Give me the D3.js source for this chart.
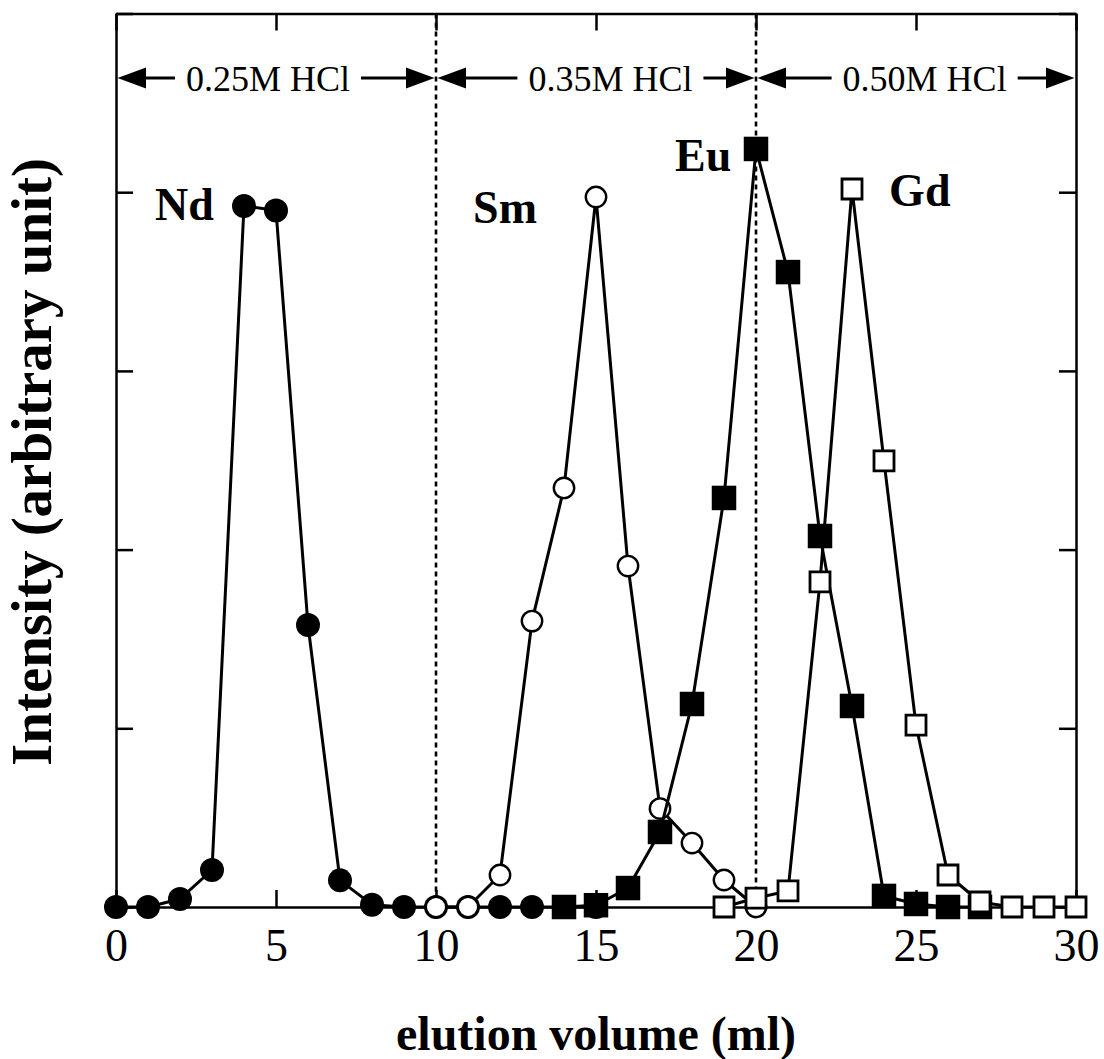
<!DOCTYPE html>
<html>
<head>
<meta charset="utf-8">
<script src="https://cdn.jsdelivr.net/npm/d3@7"></script>
<style>
  body { margin: 0; background: #fff; }
  svg { display: block; }
</style>
</head>
<body>
<div id="chart"></div>
<script>
// elution curves of Nd, Sm, Eu, Gd (intensity in arbitrary units, 0-5 scale)
var ndX = [0, 1, 2, 3, 4, 5, 6, 7, 8, 9, 10, 11, 12, 13, 14, 15];
var ndY = [0, 0, 0.045, 0.207, 3.923, 3.898, 1.578, 0.149, 0.013, 0, 0, 0, 0, 0, 0, 0];

var smX = [10, 11, 12, 13, 14, 15, 16, 17, 18, 19, 20];
var smY = [0, 0, 0.179, 1.60, 2.345, 3.973, 1.908, 0.551, 0.358, 0.151, 0];

var euX = [14, 15, 16, 17, 18, 19, 20, 21, 22, 23, 24, 25, 26, 27];
var euY = [0, 0.01, 0.106, 0.42, 1.136, 2.289, 4.242, 3.553, 2.076, 1.125, 0.062, 0.017, 0, 0];

var gdX = [19, 20, 21, 22, 23, 24, 25, 26, 27, 28, 29, 30];
var gdY = [0, 0.05, 0.09, 1.819, 4.018, 2.496, 1.018, 0.179, 0.028, 0, 0, 0];

// element labels: name, x, y (data units)
var elemNames = ["Nd", "Sm", "Eu", "Gd"];
var elemLabelX = [1.22, 11.16, 17.47, 24.16];
var elemLabelY = [3.845, 3.83, 4.12, 3.92];

// eluent steps
var stepEdges = [0, 10, 20, 30];
var stepNames = ["0.25M HCl", "0.35M HCl", "0.50M HCl"];
var stepLabelX = [4.75, 15.45, 25.27];

var xTicks = [0, 5, 10, 15, 20, 25, 30];
var yTicks = [0, 1, 2, 3, 4, 5];

var width = 1104, height = 1059;
var margin = {left: 116, right: 28, top: 13.5, bottom: 152};
var serif = "'Liberation Serif', 'Times New Roman', Times, serif";

var x = d3.scaleLinear().domain([0, 30]).range([margin.left, width - margin.right]);
var y = d3.scaleLinear().domain([0, 5]).range([height - margin.bottom, margin.top]);

var svg = d3.select("#chart").append("svg")
  .attr("width", width)
  .attr("height", height);

// axes, ticks inward on all four sides
function styleAxis(g) {
  g.selectAll("path, line").style("stroke", "#000").style("stroke-width", 2.5);
}

svg.append("g")
  .attr("transform", "translate(0," + y(0) + ")")
  .call(d3.axisBottom(x).tickValues(xTicks).tickSize(-17).tickSizeOuter(0).tickPadding(21))
  .call(styleAxis)
  .call(function(g) {
    g.selectAll("text")
      .style("font-family", serif)
      .style("font-size", "46px")
      .style("fill", "#000");
  });

svg.append("g")
  .attr("transform", "translate(0," + y(5) + ")")
  .call(d3.axisTop(x).tickValues(xTicks).tickSize(-17).tickSizeOuter(0).tickFormat(""))
  .call(styleAxis);

svg.append("g")
  .attr("transform", "translate(" + x(0) + ",0)")
  .call(d3.axisLeft(y).tickValues(yTicks).tickSize(-17).tickSizeOuter(0).tickFormat(""))
  .call(styleAxis);

svg.append("g")
  .attr("transform", "translate(" + x(30) + ",0)")
  .call(d3.axisRight(y).tickValues(yTicks).tickSize(-17).tickSizeOuter(0).tickFormat(""))
  .call(styleAxis);

// axis titles
svg.append("text")
  .attr("x", (x(0) + x(30)) / 2)
  .attr("y", 1050)
  .attr("text-anchor", "middle")
  .style("font-family", serif)
  .style("font-weight", "bold")
  .style("font-size", "48px")
  .text("elution volume (ml)");

svg.append("text")
  .attr("transform", "translate(51,462) rotate(-90)")
  .attr("text-anchor", "middle")
  .style("font-family", serif)
  .style("font-weight", "bold")
  .style("font-size", "57px")
  .text("Intensity (arbitrary unit)");

// dotted step boundaries
svg.selectAll(".step-line")
  .data(stepEdges.slice(1, 3))
  .enter().append("line")
  .attr("class", "step-line")
  .attr("x1", function(d) { return x(d); })
  .attr("x2", function(d) { return x(d); })
  .attr("y1", y(5))
  .attr("y2", y(0))
  .style("stroke", "#000")
  .style("stroke-width", 2.6)
  .style("stroke-dasharray", "5,4");

// step labels with arrows
var arrowY = 78, headLen = 30, headHalf = 10.5, gap = 11;
stepNames.forEach(function(name, i) {
  var t = svg.append("text")
    .attr("x", x(stepLabelX[i]))
    .attr("y", arrowY + 13)
    .attr("text-anchor", "middle")
    .style("font-family", serif)
    .style("font-size", "36px")
    .text(name);
  var w = t.node().getComputedTextLength();
  var x0 = x(stepEdges[i]), x1 = x(stepEdges[i + 1]);
  var tl = x(stepLabelX[i]) - w / 2 - gap, tr = x(stepLabelX[i]) + w / 2 + gap;

  svg.append("line").attr("x1", x0 + headLen - 2).attr("x2", tl)
    .attr("y1", arrowY).attr("y2", arrowY)
    .style("stroke", "#000").style("stroke-width", 3);
  svg.append("line").attr("x1", tr).attr("x2", x1 - headLen + 2)
    .attr("y1", arrowY).attr("y2", arrowY)
    .style("stroke", "#000").style("stroke-width", 3);

  svg.append("path")
    .attr("d", "M" + (x0 + 1.5) + "," + arrowY + "L" + (x0 + headLen) + "," + (arrowY - headHalf) +
      "L" + (x0 + headLen) + "," + (arrowY + headHalf) + "Z")
    .style("fill", "#000");
  svg.append("path")
    .attr("d", "M" + (x1 - 1.5) + "," + arrowY + "L" + (x1 - headLen) + "," + (arrowY - headHalf) +
      "L" + (x1 - headLen) + "," + (arrowY + headHalf) + "Z")
    .style("fill", "#000");
});

// series
var line = d3.line()
  .x(function(d) { return x(d[0]); })
  .y(function(d) { return y(d[1]); });

var series = [
  {xs: ndX, ys: ndY, shape: d3.symbolCircle, size: Math.PI * 12 * 12, fill: "#000", stroke: "none", sw: 0},
  {xs: smX, ys: smY, shape: d3.symbolCircle, size: Math.PI * 10.2 * 10.2, fill: "#fff", stroke: "#000", sw: 2.4},
  {xs: euX, ys: euY, shape: d3.symbolSquare, size: 24.5 * 24.5, fill: "#000", stroke: "none", sw: 0},
  {xs: gdX, ys: gdY, shape: d3.symbolSquare, size: 20 * 20, fill: "#fff", stroke: "#000", sw: 2.8}
];

series.forEach(function(s) {
  var pts = s.xs.map(function(v, i) { return [v, s.ys[i]]; });
  var g = svg.append("g");
  g.append("path")
    .datum(pts)
    .attr("d", line)
    .style("fill", "none")
    .style("stroke", "#000")
    .style("stroke-width", 3)
    .style("stroke-linejoin", "round");
  g.selectAll("path.pt")
    .data(pts)
    .enter().append("path")
    .attr("class", "pt")
    .attr("transform", function(d) { return "translate(" + x(d[0]) + "," + y(d[1]) + ")"; })
    .attr("d", d3.symbol().type(s.shape).size(s.size))
    .style("fill", s.fill)
    .style("stroke", s.stroke)
    .style("stroke-width", s.sw);
});

// element labels
svg.selectAll(".elem")
  .data(elemNames)
  .enter().append("text")
  .attr("class", "elem")
  .attr("x", function(d, i) { return x(elemLabelX[i]); })
  .attr("y", function(d, i) { return y(elemLabelY[i]); })
  .style("font-family", serif)
  .style("font-weight", "bold")
  .style("font-size", "46px")
  .text(function(d) { return d; });
</script>
</body>
</html>
